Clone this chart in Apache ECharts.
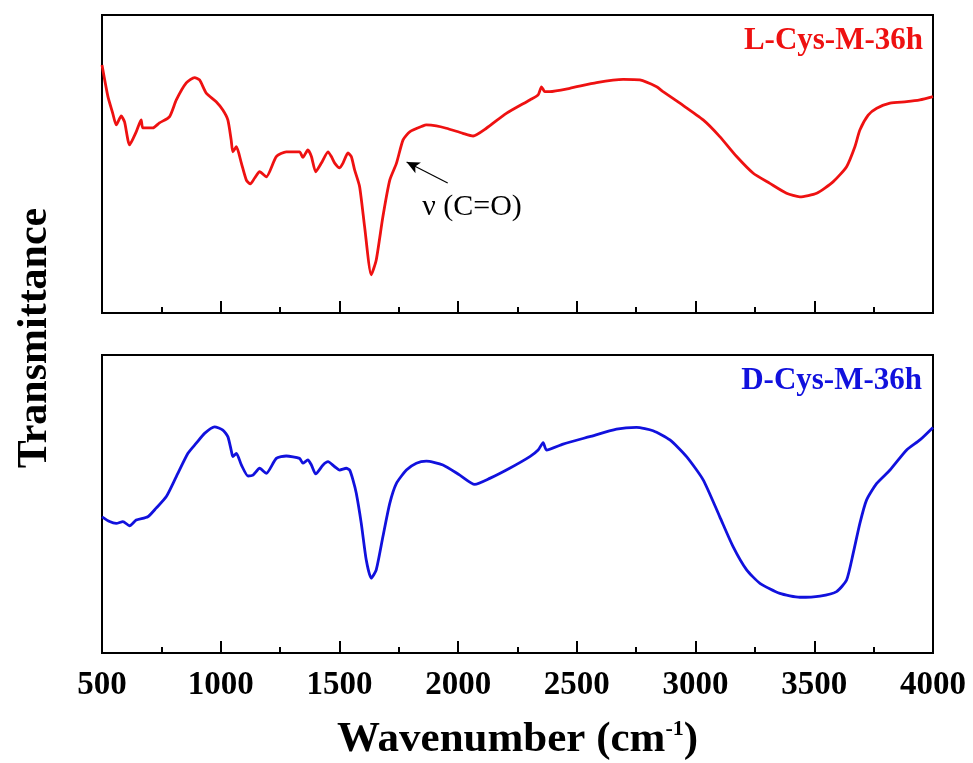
<!DOCTYPE html>
<html>
<head>
<meta charset="utf-8">
<script src="https://cdn.jsdelivr.net/npm/echarts@6/dist/echarts.min.js"></script>
<style>
  html, body { margin: 0; padding: 0; background: #fff; }
  #chart { width: 973px; height: 763px; }
</style>
</head>
<body>
<div id="chart"></div>
<script>
// FTIR spectra: wavenumber (cm-1) vs. relative transmittance (arbitrary units)
const lCysWave = [500, 525, 545, 560, 581, 595, 616, 644, 665, 672, 714, 742, 784, 813, 855, 890, 911, 939, 981, 1009,
  1030, 1044, 1051, 1066, 1087, 1108, 1125, 1143, 1164, 1192, 1234, 1276, 1332, 1346, 1367, 1382, 1400, 1424, 1452, 1466,
  1480, 1501, 1515, 1536, 1550, 1564, 1585, 1606, 1634, 1655, 1683, 1712, 1740, 1768, 1796, 1852, 1866, 1908, 1950, 2020,
  2063, 2119, 2203, 2302, 2337, 2351, 2365, 2386, 2470, 2583, 2695, 2765, 2836, 2863, 2934, 3032, 3102, 3173, 3243, 3313,
  3383, 3439, 3510, 3580, 3636, 3671, 3692, 3727, 3763, 3819, 3889, 3945, 4000];
const lCysT = [83.2, 72.6, 67.1, 63.1, 66.1, 64.1, 56.4, 60.8, 64.8, 62.1, 62.1, 63.8, 65.8, 71.5, 77.2, 79.0, 78.2, 73.8, 70.9, 68.1,
  64.8, 58.1, 54.1, 55.8, 50.3, 44.6, 43.3, 45.3, 47.4, 45.7, 52.5, 54.1, 54.1, 52.2, 54.7, 52.5, 47.4, 50.3, 54.1, 52.5,
  50.3, 48.7, 50.3, 53.7, 52.5, 48.0, 42.4, 29.0, 12.8, 17.8, 32.3, 44.6, 50.2, 58.1, 60.8, 62.8, 63.1, 62.8, 62.0, 60.3,
  59.4, 62.0, 67.0, 71.5, 73.2, 75.9, 74.3, 74.3, 75.4, 77.3, 78.4, 78.2, 75.9, 74.3, 70.4, 64.8, 59.2, 52.5, 46.9, 43.5,
  40.2, 39.0, 40.2, 44.1, 49.1, 55.8, 61.4, 66.4, 68.7, 70.4, 70.9, 71.5, 72.6];

const dCysWave = [500, 532, 560, 588, 616, 644, 693, 728, 771, 813, 862, 897, 932, 974, 1009, 1030, 1044, 1051, 1066, 1087,
  1115, 1136, 1164, 1192, 1234, 1276, 1332, 1346, 1367, 1382, 1400, 1431, 1452, 1480, 1501, 1529, 1543, 1557, 1571, 1592,
  1613, 1634, 1655, 1683, 1712, 1740, 1782, 1824, 1866, 1936, 2007, 2070, 2133, 2217, 2302, 2337, 2358, 2372, 2442, 2554,
  2667, 2751, 2821, 2892, 2962, 3032, 3102, 3158, 3215, 3271, 3355, 3439, 3524, 3594, 3636, 3664, 3692, 3720, 3763, 3819,
  3889, 3945, 4000];
const dCysT = [45.7, 44.1, 43.5, 44.1, 42.7, 44.6, 45.7, 48.6, 52.5, 59.2, 67.0, 70.4, 73.7, 75.9, 74.8, 72.6, 68.1, 65.9, 67.0, 63.1,
  59.4, 59.7, 62.0, 60.3, 65.3, 66.1, 65.3, 63.7, 64.8, 63.1, 60.1, 63.1, 64.2, 62.5, 61.4, 62.0, 61.4, 58.1, 53.6, 43.5,
  31.2, 25.1, 27.9, 39.0, 50.2, 56.9, 61.4, 63.7, 64.4, 63.1, 59.7, 56.6, 58.6, 62.0, 65.9, 68.1, 70.6, 68.1, 70.1, 72.6,
  75.1, 75.7, 74.6, 71.5, 65.9, 58.1, 45.7, 35.7, 27.9, 23.4, 20.0, 18.7, 19.1, 20.6, 24.5, 33.5, 43.5, 51.3, 56.9, 61.4,
  68.1, 71.5, 75.7];

const seriesNames = ['L-Cys-M-36h', 'D-Cys-M-36h'];
const seriesColors = ['#ee1111', '#1111dd'];

// C=O stretching band annotation arrow (wavenumber, transmittance)
const coArrowFrom = [1956, 43.6];
const coArrowTo = [1783, 50.7];
const coLabel = 'ν (C=O)';

const waveMin = 500, waveMax = 4000, waveStep = 500;

const serif = '"Liberation Serif", "Times New Roman", serif';
const pairs = (xs, ys) => xs.map((x, i) => [x, ys[i]]);

const chart = echarts.init(document.getElementById('chart'), null, { renderer: 'canvas' });

function xAxisFor(gridIndex, showLabels) {
  return {
    type: 'value', gridIndex, min: waveMin, max: waveMax, interval: waveStep,
    axisLine: { show: true, lineStyle: { color: '#000', width: 2 } },
    axisTick: { show: true, inside: true, length: 12, lineStyle: { color: '#000', width: 2 } },
    minorTick: { show: true, splitNumber: 2, length: 6, lineStyle: { color: '#000', width: 2 } },
    splitLine: { show: false },
    axisLabel: {
      show: showLabels, margin: 16, color: '#000',
      fontFamily: serif, fontWeight: 'bold', fontSize: 33,
      formatter: (v) => String(v)
    },
    name: showLabels ? 'Wavenumber (cm{sup|-1})' : '',
    nameLocation: 'middle', nameGap: 65,
    nameTextStyle: {
      color: '#000', fontFamily: serif, fontWeight: 'bold', fontSize: 43,
      rich: { sup: { fontFamily: serif, fontWeight: 'bold', fontSize: 22, verticalAlign: 'top', padding: [0, 0, 20, 0], color: '#000' } }
    }
  };
}

function yAxisFor(gridIndex) {
  return {
    type: 'value', gridIndex, min: 0, max: 100,
    axisLine: { show: false }, axisTick: { show: false },
    axisLabel: { show: false }, splitLine: { show: false }
  };
}

const gridBase = { left: 102, width: 831, height: 298, show: true, borderColor: '#000', borderWidth: 2,
  backgroundColor: 'transparent', containLabel: false, outerBoundsMode: 'none' };

chart.setOption({
  backgroundColor: '#fff',
  animation: false,
  grid: [
    Object.assign({ top: 15 }, gridBase),
    Object.assign({ top: 355 }, gridBase)
  ],
  xAxis: [xAxisFor(0, false), xAxisFor(1, true)],
  yAxis: [yAxisFor(0), yAxisFor(1)],
  series: [
    {
      name: seriesNames[0], type: 'line', xAxisIndex: 0, yAxisIndex: 0,
      data: pairs(lCysWave, lCysT), showSymbol: false, smooth: 0.2,
      lineStyle: { color: seriesColors[0], width: 2.8 },
      markLine: {
        silent: true, symbol: ['none', 'arrow'], symbolSize: [9, 13],
        label: { show: false },
        lineStyle: { color: '#000', width: 1.2, type: 'solid' },
        data: [[{ coord: coArrowFrom }, { coord: coArrowTo }]]
      }
    },
    {
      name: seriesNames[1], type: 'line', xAxisIndex: 1, yAxisIndex: 1,
      data: pairs(dCysWave, dCysT), showSymbol: false, smooth: 0.2,
      lineStyle: { color: seriesColors[1], width: 2.8 }
    }
  ],
  graphic: [
    {
      type: 'text', x: 35, y: 338, rotation: Math.PI / 2,
      style: { text: 'Transmittance', fill: '#000', font: 'bold 42px ' + serif, textAlign: 'center', textVerticalAlign: 'middle' }
    },
    {
      type: 'text', x: 923, y: 41,
      style: { text: seriesNames[0], fill: seriesColors[0], font: 'bold 31px ' + serif, textAlign: 'right', textVerticalAlign: 'middle' }
    },
    {
      type: 'text', x: 922, y: 381,
      style: { text: seriesNames[1], fill: seriesColors[1], font: 'bold 31px ' + serif, textAlign: 'right', textVerticalAlign: 'middle' }
    },
    {
      type: 'text', x: 472, y: 207,
      style: { text: coLabel, fill: '#000', font: '30px ' + serif, textAlign: 'center', textVerticalAlign: 'middle' }
    }
  ]
});
</script>
</body>
</html>
